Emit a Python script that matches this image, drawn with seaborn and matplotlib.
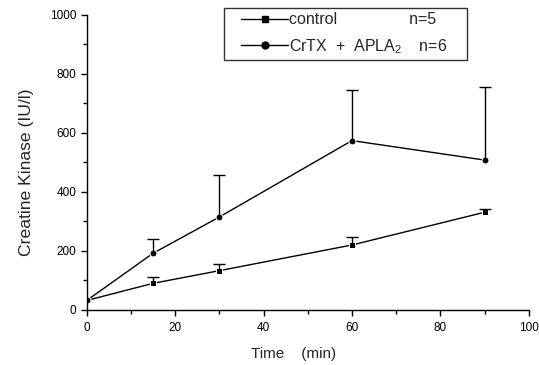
import matplotlib
matplotlib.use("Agg")
import matplotlib.pyplot as plt
import seaborn as sns
import pandas as pd
from matplotlib.ticker import MultipleLocator
from matplotlib.legend_handler import HandlerLine2D

sns.set_style("ticks")
plt.rcParams['font.family'] = ['Liberation Sans', 'DejaVu Sans']
plt.rcParams['mathtext.fontset'] = 'custom'
plt.rcParams['mathtext.rm'] = 'Liberation Sans'

# Datos
tiempo = [0, 15, 30, 60, 90]
control = [32, 90, 133, 220, 331]
control_err = [0, 23, 23, 26, 11]
crtx = [32, 192, 315, 574, 508]
crtx_err = [0, 49, 142, 172, 249]

df = pd.DataFrame({
    'Time': tiempo * 2,
    'CK': control + crtx,
    'grupo': ['control'] * 5 + ['crtx'] * 5,
})

fig, ax = plt.subplots(figsize=(5.39, 3.65), dpi=100)
fig.subplots_adjust(left=0.161, right=0.981, bottom=0.151, top=0.959)

sns.lineplot(data=df, x='Time', y='CK', style='grupo', markers={'control': 's', 'crtx': 'o'},
             dashes=False, color='black', linewidth=1, markersize=5, ax=ax, legend=False)

# Barras de error (solo hacia arriba, sin el punto t=0)
for valores, errores in [(control, control_err), (crtx, crtx_err)]:
    _, caps, _ = ax.errorbar(tiempo[1:], valores[1:], yerr=[[0] * 4, errores[1:]], fmt='none',
                             ecolor='black', elinewidth=1, capsize=4, capthick=1)
    caps[0].remove()

ax.set_xlim(0, 100)
ax.set_ylim(0, 1000)
ax.xaxis.set_major_locator(MultipleLocator(20))
ax.xaxis.set_minor_locator(MultipleLocator(10))
ax.yaxis.set_major_locator(MultipleLocator(200))
ax.yaxis.set_minor_locator(MultipleLocator(100))
ax.tick_params(which='both', direction='out', colors='black', labelsize=8.5, width=1)
ax.tick_params(which='major', length=4)
ax.tick_params(which='minor', length=3)
ax.tick_params(axis='x', pad=5)
sns.despine(ax=ax)
for s in ['left', 'bottom']:
    ax.spines[s].set_color('black')
    ax.spines[s].set_linewidth(1)

ax.set_xlabel('Time    (min)', fontsize=11)
ax.set_ylabel('Creatine Kinase (IU/l)', fontsize=12.6)
ax.xaxis.set_label_coords(0.468, -0.125)
ax.yaxis.set_label_coords(-0.12, 0.468)

h1, = ax.plot([], [], color='black', marker='s', markersize=5, linewidth=1)
h2, = ax.plot([], [], color='black', marker='o', markersize=5, linewidth=1)
manejador = HandlerLine2D(xpad=0.8, numpoints=1)
leg = ax.legend([h1, h2], ['control                n=5', r'CrTX  +  APLA$_2$    n=6    '],
                handler_map={h1: manejador, h2: manejador},
                loc='upper left', bbox_to_anchor=(0.31, 1.025), fontsize=11.5,
                frameon=True, fancybox=False, edgecolor='black', handlelength=3.75,
                handletextpad=0.05, borderpad=0.3, labelspacing=0.6, borderaxespad=0)
leg.get_frame().set_linewidth(1)

plt.savefig('out.png', dpi=100)
